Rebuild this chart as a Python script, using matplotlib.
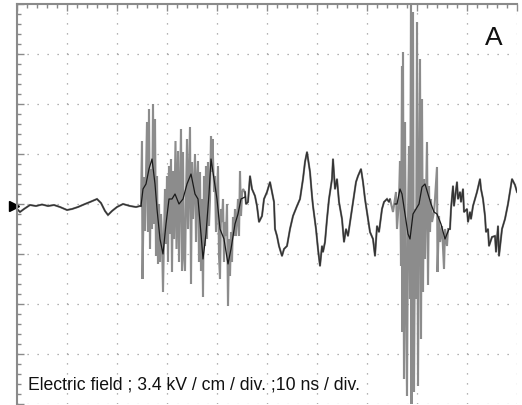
import numpy as np
import matplotlib
matplotlib.use("Agg")
import matplotlib.pyplot as plt
from matplotlib.ticker import MultipleLocator

plt.rcParams["font.family"] = ["Liberation Sans", "DejaVu Sans"]

KV_PER_DIV = 3.4   # kV/cm per division
NS_PER_DIV = 10    # ns per division

# scope trace, time in ns, field in divisions
t_ns = [
    0.0, 0.6, 1.4, 2.6, 3.8, 5.0, 6.2, 7.4, 8.6, 10.0, 11.0, 12.2, 13.6, 14.6,
    16.0, 16.8, 17.6, 18.2, 19.0, 20.0, 21.2, 22.6, 23.8, 24.6,
    24.8, 25.0, 25.1, 25.4, 25.6, 26.0, 26.2, 26.4, 26.6, 26.8, 27.0, 27.2,
    27.4, 27.6, 27.8, 28.0, 28.2, 28.4, 28.6, 28.8, 29.0, 29.2, 29.4, 29.6,
    29.8, 30.0, 30.2, 30.4, 30.6, 30.8, 31.0, 31.2, 31.4, 31.7, 31.9, 32.2,
    32.4, 32.6, 32.8, 33.0, 33.2, 33.4, 33.6, 33.8, 34.0, 34.2, 34.6, 34.8,
    35.0, 35.2, 35.6, 35.8, 36.0, 36.2, 36.4, 36.6, 36.8, 37.0, 37.2, 37.4,
    37.6, 37.8, 38.0, 38.2,
    38.4, 38.6, 38.8, 39.0, 39.1, 39.4, 39.6, 39.8, 40.0, 40.2, 40.4, 40.6,
    40.8, 41.0, 41.2, 41.4, 41.6, 41.8, 42.0, 42.2, 42.4, 42.6, 42.8, 43.0,
    43.2, 43.4, 43.6, 43.8, 44.0, 44.2, 44.4, 44.6, 44.8, 45.0, 45.2, 45.6,
    45.8, 46.2, 46.6, 47.0, 47.6, 48.0, 48.4, 49.0, 49.4, 50.0, 50.6, 51.0,
    51.4, 51.6, 52.0, 52.4, 53.0, 53.4,
    54.0, 54.6, 55.2, 56.0, 56.6, 57.2, 57.6, 58.0, 58.6, 59.0, 59.2, 59.8,
    60.2, 60.6, 61.0, 61.2, 61.6, 62.0, 62.4, 63.0, 63.2, 63.6, 64.0, 64.4,
    65.0, 65.4, 65.8, 66.2, 66.8, 67.2, 67.8, 68.2, 68.8, 69.2, 69.6, 70.0,
    70.6, 71.2, 71.6, 72.0, 72.4, 73.0, 73.4, 74.0, 74.4,
    74.6, 75.2, 75.8, 76.0, 76.4, 76.6, 76.8, 77.0, 77.1, 77.2, 77.4, 77.6,
    77.8, 78.0, 78.2, 78.4, 78.6, 78.8, 78.9, 79.0, 79.2, 79.4, 79.6, 79.8,
    80.0, 80.2, 80.4, 80.6, 80.8, 81.0, 81.2, 81.4, 81.6, 82.0, 82.2, 82.4,
    82.6, 82.8, 83.0, 83.4,
    83.6, 84.0, 84.1, 84.4, 84.6, 85.0, 85.4, 85.6, 86.0, 86.2, 86.6, 86.8,
    87.2, 87.4, 88.0, 88.2, 88.6, 88.8, 89.2, 89.4, 90.0, 90.2, 90.6, 90.8,
    91.2, 92.0, 92.6, 92.8, 93.2, 93.6, 93.8, 94.2, 94.4, 95.0, 95.6, 95.8,
    96.2, 96.4, 97.0, 97.6, 98.2, 99.0, 99.6, 100.0,
]
field_div = [
    -0.10, -0.16, -0.10, -0.02, -0.04, -0.01, -0.04, -0.02, -0.06, -0.12,
    -0.10, -0.06, 0.00, 0.04, 0.10, 0.02, -0.14, -0.22, -0.14, -0.06, 0.00,
    -0.04, -0.06, -0.04,
    -0.04, 1.26, -1.50, 0.54, -0.54, 1.64, -0.56, 1.90, -0.90, 0.70, -0.50,
    2.00, -0.40, 1.70, -1.04, 0.56, -1.20, 0.00, -1.16, -0.20, -0.64, -1.76,
    -0.64, 0.30, -0.80, 0.56, -1.16, 0.76, -0.60, 0.90, -1.36, 0.66, -0.70,
    1.26, -0.90, 1.06, -1.16, 0.30, 1.50, -1.34, 1.04, -1.04, -1.34, 0.10,
    1.30, -0.50, 1.54, -1.60, 0.84, -0.30, 1.00, -0.76, 0.50, 0.86, -1.16,
    0.64, -1.34, 0.10, -1.86, 0.56, -0.84, 0.76, -0.70, 0.84,
    -0.44, 0.10, 1.36, 0.64, 1.30, 0.24, 0.56, -0.56, 0.10, 0.76, -1.04,
    -1.50, -0.10, -0.36, 0.10, -1.16, -0.36, -0.64, 0.00, -2.04, -0.70,
    -1.44, -0.56, -1.16, -0.26, -0.64, -0.10, -0.64, -0.30, 0.10, -0.64,
    0.66, -0.24, 0.20, 0.30, 0.24, 0.00, 0.04, 0.56, 0.30, 0.16, -0.04,
    -0.36, -0.24, 0.10, 0.24, 0.44, 0.24, 0.04, -0.50, -0.64, -0.84, -1.04,
    -0.90,
    -0.84, -0.50, -0.24, -0.04, 0.10, 0.50, 0.84, 1.04, 0.64, 0.16, -0.04,
    -0.50, -0.90, -1.24, -0.84, -0.96, -0.76, -0.30, 0.10, 0.50, 0.90, 0.30,
    0.50, 0.04, -0.30, -0.76, -0.50, -0.64, -0.24, 0.04, 0.44, 0.56, 0.70,
    0.44, 0.10, -0.16, -0.56, -0.70, -1.04, -0.44, -0.56, -0.10, 0.04, 0.10,
    0.04,
    0.10, -0.16, 0.24, -0.50, 0.10, 0.86, -1.24, 2.76, -2.56, 3.04, -3.50,
    1.64, -1.76, -3.84, -0.30, 1.16, -1.90, 4.10, -4.10, 0.50, 3.84, -3.76,
    -0.10, -1.90, 3.64, -3.64, 0.10, 2.90, -2.70, 2.10, -1.76, 0.50, -1.10,
    1.24, -1.62, 0.36, -0.56, 0.10, -0.36, -0.16,
    0.10, 0.74, -1.36, -0.24, -0.76, -0.44, -1.30, -0.50, -0.84, -0.50,
    -0.50, -0.10, 0.36, -0.04, 0.44, 0.10, 0.24, 0.04, 0.30, -0.16, -0.10,
    -0.36, -0.16, -0.30, -0.04, 0.24, 0.50, 0.30, 0.10, -0.24, -0.56, -0.50,
    -0.84, -0.66, -0.64, -0.96, -0.44, -1.04, -0.50, -0.30, 0.00, 0.50,
    0.38, 0.24,
]

# darker mean trace inside the two noisy bursts
core1_t_ns = [
    24.8, 25.2, 25.8, 26.4, 27.0, 27.6, 28.0, 28.6, 29.2, 29.8, 30.4, 31.0,
    31.6, 32.4, 33.2, 34.0, 34.8, 35.6, 36.2, 36.8, 37.2, 37.8, 38.4, 38.8,
    39.4, 40.0, 40.6, 41.4, 42.2, 42.8, 43.6, 44.2, 44.8, 45.6,
]
core1_div = [
    -0.04, 0.30, 0.40, 0.70, 0.90, 0.40, -0.10, -0.70, -1.00, -0.40, 0.10,
    0.10, 0.20, 0.00, 0.10, 0.40, 0.60, 0.20, 0.10, -0.60, -1.10, -0.60,
    0.20, 0.90, 0.50, 0.10, -0.50, -0.70, -1.20, -0.90, -0.40, -0.20, 0.10,
    0.14,
]
core2_t_ns = [
    75.6, 76.0, 76.6, 77.0, 77.6, 78.2, 78.6, 79.2, 79.8, 80.4, 81.0, 81.6,
    82.2, 82.8, 83.4, 84.0, 84.8, 85.6, 86.4,
]
core2_div = [
    0.00, 0.00, 0.30, 0.20, -0.20, -0.60, -0.70, -0.20, -0.10, 0.00, 0.34,
    0.40, 0.20, 0.00, -0.16, -0.20, -0.40, -0.70, -0.50,
]

# quiet stretches where the whole trace looks dark
quiet_ranges = [(0.0, 24.8), (45.6, 75.0), (86.4, 100.0)]

t = np.array(t_ns)
e = np.array(field_div) * KV_PER_DIV
quiet = np.zeros(len(t), dtype=bool)
for lo, hi in quiet_ranges:
    quiet |= (t >= lo) & (t <= hi)
e_quiet = np.where(quiet, e, np.nan)

fig = plt.figure(figsize=(5.22, 4.06), dpi=100)
ax = fig.add_axes([17 / 522, 1 / 406, 500 / 522, 400 / 406])

ax.plot(t, e, color="#8c8c8c", lw=1.5, solid_joinstyle="miter")
ax.plot(t, e_quiet, color="#333333", lw=1.0)
for ct, cv in [(core1_t_ns, core1_div), (core2_t_ns, core2_div)]:
    ax.plot(ct, np.array(cv) * KV_PER_DIV, color="#1a1a1a", lw=0.9)

ax.set_xlim(0, 10 * NS_PER_DIV)
ax.set_ylim(-4 * KV_PER_DIV, 4 * KV_PER_DIV)

ax.xaxis.set_major_locator(MultipleLocator(NS_PER_DIV))
ax.xaxis.set_minor_locator(MultipleLocator(NS_PER_DIV / 5))
ax.yaxis.set_major_locator(MultipleLocator(KV_PER_DIV))
ax.yaxis.set_minor_locator(MultipleLocator(KV_PER_DIV / 5))
ax.grid(True, which="major", color="#9a9a9a", lw=0.9, linestyle=(0, (1.0, 7.0)))
ax.tick_params(which="both", direction="in", color="#8a8a8a",
               labelbottom=False, labelleft=False,
               top=True, bottom=False, left=True, right=False)
ax.tick_params(which="major", length=5, width=1)
ax.tick_params(which="minor", length=3, width=1)

for side in ["right", "bottom"]:
    ax.spines[side].set_visible(False)
for side in ["left", "top"]:
    ax.spines[side].set_color("#8a8a8a")
    ax.spines[side].set_linewidth(1.5)

# ground-level marker on the left edge
ax.plot([-0.6], [-0.04 * KV_PER_DIV], marker=">", color="black", ms=7,
        clip_on=False)

ax.text(0.022, 0.0375, "Electric field ; 3.4 kV / cm / div. ;10 ns / div.",
        transform=ax.transAxes, fontsize=12.7, ha="left", va="baseline",
        color="#111111")
ax.text(0.936, 0.90, "A", transform=ax.transAxes, fontsize=19,
        ha="left", va="baseline", color="#111111")

fig.savefig("out.png", dpi=100)
